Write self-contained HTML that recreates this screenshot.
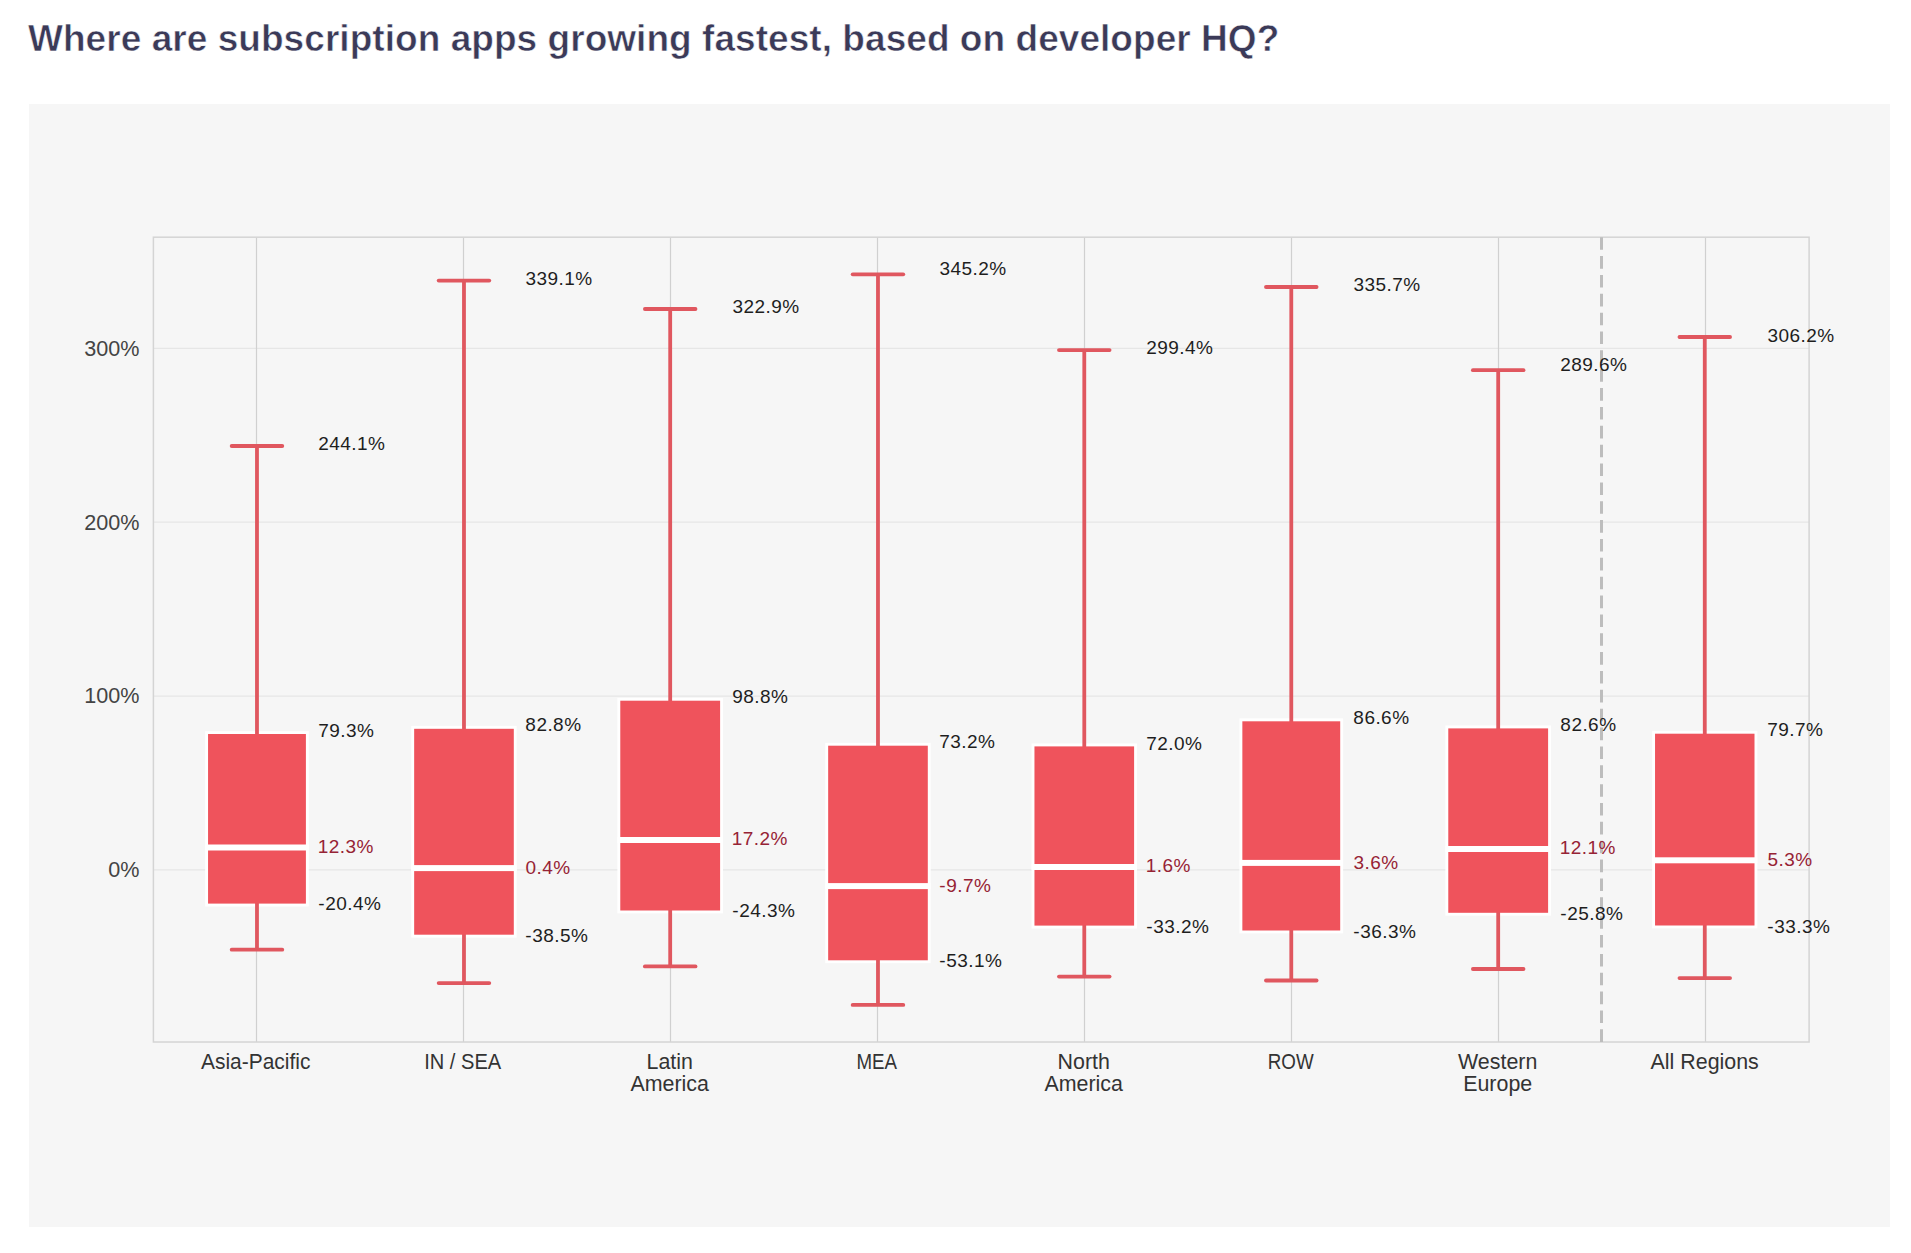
<!DOCTYPE html><html><head><meta charset="utf-8"><style>html,body{margin:0;padding:0;background:#fff;width:1911px;height:1253px;overflow:hidden}svg{display:block}text{font-family:"Liberation Sans",sans-serif}</style></head><body>
<svg width="1911" height="1253" viewBox="0 0 1911 1253">
<text x="28" y="50.8" font-size="37" font-weight="bold" letter-spacing="0.05" fill="#3b3a58" stroke="#ffffff" stroke-width="0.55">Where are subscription apps growing fastest, based on developer HQ?</text>
<rect x="29" y="104" width="1861" height="1123" fill="#f6f6f6"/>
<line x1="153.4" x2="1809.1" y1="869.90" y2="869.90" stroke="#e6e6e6" stroke-width="1.3"/>
<line x1="153.4" x2="1809.1" y1="696.03" y2="696.03" stroke="#e6e6e6" stroke-width="1.3"/>
<line x1="153.4" x2="1809.1" y1="522.16" y2="522.16" stroke="#e6e6e6" stroke-width="1.3"/>
<line x1="153.4" x2="1809.1" y1="348.29" y2="348.29" stroke="#e6e6e6" stroke-width="1.3"/>
<line x1="256.5" x2="256.5" y1="237.2" y2="1042" stroke="#d0d0d0" stroke-width="1.2"/>
<line x1="463.5" x2="463.5" y1="237.2" y2="1042" stroke="#d0d0d0" stroke-width="1.2"/>
<line x1="670.5" x2="670.5" y1="237.2" y2="1042" stroke="#d0d0d0" stroke-width="1.2"/>
<line x1="877.5" x2="877.5" y1="237.2" y2="1042" stroke="#d0d0d0" stroke-width="1.2"/>
<line x1="1084.5" x2="1084.5" y1="237.2" y2="1042" stroke="#d0d0d0" stroke-width="1.2"/>
<line x1="1291.5" x2="1291.5" y1="237.2" y2="1042" stroke="#d0d0d0" stroke-width="1.2"/>
<line x1="1498.5" x2="1498.5" y1="237.2" y2="1042" stroke="#d0d0d0" stroke-width="1.2"/>
<line x1="1705.5" x2="1705.5" y1="237.2" y2="1042" stroke="#d0d0d0" stroke-width="1.2"/>
<rect x="153.4" y="237.2" width="1655.6999999999998" height="804.8" fill="none" stroke="#d4d4d4" stroke-width="1.5"/>
<text x="139.4" y="877.30" text-anchor="end" font-size="21.6" fill="#444444">0%</text>
<text x="139.4" y="703.43" text-anchor="end" font-size="21.6" fill="#444444">100%</text>
<text x="139.4" y="529.56" text-anchor="end" font-size="21.6" fill="#444444">200%</text>
<text x="139.4" y="355.69" text-anchor="end" font-size="21.6" fill="#444444">300%</text>
<text x="255.7" y="1069.3" text-anchor="middle" font-size="21.4" fill="#333333" transform="translate(255.7 0) scale(0.979 1) translate(-255.7 0)">Asia-Pacific</text>
<text x="462.7" y="1069.3" text-anchor="middle" font-size="21.4" fill="#333333" transform="translate(462.7 0) scale(0.94 1) translate(-462.7 0)">IN / SEA</text>
<text x="669.7" y="1069.3" text-anchor="middle" font-size="21.4" fill="#333333">Latin</text>
<text x="669.7" y="1090.9" text-anchor="middle" font-size="21.4" fill="#333333">America</text>
<text x="876.7" y="1069.3" text-anchor="middle" font-size="21.4" fill="#333333" transform="translate(876.7 0) scale(0.876 1) translate(-876.7 0)">MEA</text>
<text x="1083.7" y="1069.3" text-anchor="middle" font-size="21.4" fill="#333333">North</text>
<text x="1083.7" y="1090.9" text-anchor="middle" font-size="21.4" fill="#333333">America</text>
<text x="1290.7" y="1069.3" text-anchor="middle" font-size="21.4" fill="#333333" transform="translate(1290.7 0) scale(0.878 1) translate(-1290.7 0)">ROW</text>
<text x="1497.7" y="1069.3" text-anchor="middle" font-size="21.4" fill="#333333">Western</text>
<text x="1497.7" y="1090.9" text-anchor="middle" font-size="21.4" fill="#333333">Europe</text>
<text x="1704.7" y="1069.3" text-anchor="middle" font-size="21.4" fill="#333333">All Regions</text>
<rect x="205.15" y="731.10" width="103.65" height="175.40" fill="#ffffff"/>
<line x1="256.98" x2="256.98" y1="446" y2="735.0" stroke="#e0575f" stroke-width="3.8"/>
<line x1="256.98" x2="256.98" y1="902.6" y2="949.65" stroke="#e0575f" stroke-width="3.8"/>
<line x1="231.68" x2="282.28" y1="446" y2="446" stroke="#e0575f" stroke-width="3.8" stroke-linecap="round"/>
<line x1="231.68" x2="282.28" y1="949.65" y2="949.65" stroke="#e0575f" stroke-width="3.8" stroke-linecap="round"/>
<rect x="208.05" y="734.00" width="97.85" height="169.60" fill="#ef535c"/>
<rect x="205.15" y="844.50" width="103.65" height="6.0" fill="#ffffff"/>
<rect x="411.26" y="725.90" width="105.44" height="211.70" fill="#ffffff"/>
<line x1="463.98" x2="463.98" y1="280.6" y2="729.8" stroke="#e0575f" stroke-width="3.8"/>
<line x1="463.98" x2="463.98" y1="933.7" y2="983.06" stroke="#e0575f" stroke-width="3.8"/>
<line x1="438.68" x2="489.28" y1="280.6" y2="280.6" stroke="#e0575f" stroke-width="3.8" stroke-linecap="round"/>
<line x1="438.68" x2="489.28" y1="983.06" y2="983.06" stroke="#e0575f" stroke-width="3.8" stroke-linecap="round"/>
<rect x="414.16" y="728.80" width="99.64" height="205.90" fill="#ef535c"/>
<rect x="411.26" y="865.10" width="105.44" height="6.0" fill="#ffffff"/>
<rect x="617.38" y="697.80" width="105.62" height="215.60" fill="#ffffff"/>
<line x1="670.19" x2="670.19" y1="309" y2="701.7" stroke="#e0575f" stroke-width="3.8"/>
<line x1="670.19" x2="670.19" y1="909.5" y2="966.4" stroke="#e0575f" stroke-width="3.8"/>
<line x1="644.89" x2="695.49" y1="309" y2="309" stroke="#e0575f" stroke-width="3.8" stroke-linecap="round"/>
<line x1="644.89" x2="695.49" y1="966.4" y2="966.4" stroke="#e0575f" stroke-width="3.8" stroke-linecap="round"/>
<rect x="620.28" y="700.70" width="99.82" height="209.80" fill="#ef535c"/>
<rect x="617.38" y="837.00" width="105.62" height="6.0" fill="#ffffff"/>
<rect x="825.26" y="742.80" width="105.44" height="220.40" fill="#ffffff"/>
<line x1="877.98" x2="877.98" y1="274.3" y2="746.7" stroke="#e0575f" stroke-width="3.8"/>
<line x1="877.98" x2="877.98" y1="959.3" y2="1004.9" stroke="#e0575f" stroke-width="3.8"/>
<line x1="852.68" x2="903.28" y1="274.3" y2="274.3" stroke="#e0575f" stroke-width="3.8" stroke-linecap="round"/>
<line x1="852.68" x2="903.28" y1="1004.9" y2="1004.9" stroke="#e0575f" stroke-width="3.8" stroke-linecap="round"/>
<rect x="828.16" y="745.70" width="99.64" height="214.60" fill="#ef535c"/>
<rect x="825.26" y="883.10" width="105.44" height="6.0" fill="#ffffff"/>
<rect x="1031.56" y="743.50" width="105.44" height="185.00" fill="#ffffff"/>
<line x1="1084.28" x2="1084.28" y1="350.1" y2="747.4" stroke="#e0575f" stroke-width="3.8"/>
<line x1="1084.28" x2="1084.28" y1="924.6" y2="976.6" stroke="#e0575f" stroke-width="3.8"/>
<line x1="1058.98" x2="1109.58" y1="350.1" y2="350.1" stroke="#e0575f" stroke-width="3.8" stroke-linecap="round"/>
<line x1="1058.98" x2="1109.58" y1="976.6" y2="976.6" stroke="#e0575f" stroke-width="3.8" stroke-linecap="round"/>
<rect x="1034.46" y="746.40" width="99.64" height="179.20" fill="#ef535c"/>
<rect x="1031.56" y="864.00" width="105.44" height="6.0" fill="#ffffff"/>
<rect x="1239.45" y="718.40" width="103.65" height="215.00" fill="#ffffff"/>
<line x1="1291.28" x2="1291.28" y1="287" y2="722.3" stroke="#e0575f" stroke-width="3.8"/>
<line x1="1291.28" x2="1291.28" y1="929.5" y2="980.5" stroke="#e0575f" stroke-width="3.8"/>
<line x1="1265.98" x2="1316.58" y1="287" y2="287" stroke="#e0575f" stroke-width="3.8" stroke-linecap="round"/>
<line x1="1265.98" x2="1316.58" y1="980.5" y2="980.5" stroke="#e0575f" stroke-width="3.8" stroke-linecap="round"/>
<rect x="1242.35" y="721.30" width="97.85" height="209.20" fill="#ef535c"/>
<rect x="1239.45" y="859.90" width="103.65" height="6.0" fill="#ffffff"/>
<rect x="1445.38" y="725.50" width="105.62" height="190.20" fill="#ffffff"/>
<line x1="1498.19" x2="1498.19" y1="370.2" y2="729.4" stroke="#e0575f" stroke-width="3.8"/>
<line x1="1498.19" x2="1498.19" y1="911.8" y2="969" stroke="#e0575f" stroke-width="3.8"/>
<line x1="1472.89" x2="1523.49" y1="370.2" y2="370.2" stroke="#e0575f" stroke-width="3.8" stroke-linecap="round"/>
<line x1="1472.89" x2="1523.49" y1="969" y2="969" stroke="#e0575f" stroke-width="3.8" stroke-linecap="round"/>
<rect x="1448.28" y="728.40" width="99.82" height="184.40" fill="#ef535c"/>
<rect x="1445.38" y="846.00" width="105.62" height="6.0" fill="#ffffff"/>
<rect x="1652.14" y="730.80" width="105.26" height="197.60" fill="#ffffff"/>
<line x1="1704.77" x2="1704.77" y1="337" y2="734.7" stroke="#e0575f" stroke-width="3.8"/>
<line x1="1704.77" x2="1704.77" y1="924.5" y2="978.1" stroke="#e0575f" stroke-width="3.8"/>
<line x1="1679.47" x2="1730.07" y1="337" y2="337" stroke="#e0575f" stroke-width="3.8" stroke-linecap="round"/>
<line x1="1679.47" x2="1730.07" y1="978.1" y2="978.1" stroke="#e0575f" stroke-width="3.8" stroke-linecap="round"/>
<rect x="1655.04" y="733.70" width="99.46" height="191.80" fill="#ef535c"/>
<rect x="1652.14" y="857.30" width="105.26" height="6.0" fill="#ffffff"/>
<line x1="1601.5" x2="1601.5" y1="237.2" y2="1042" stroke="#bdbdbd" stroke-width="3" stroke-dasharray="12.6 6.26"/>
<text x="318.24" y="450.38" font-size="19.0" letter-spacing="0.45" fill="#1e1e1e">244.1%</text>
<text x="318.23" y="736.92" font-size="19.0" letter-spacing="0.45" fill="#1e1e1e">79.3%</text>
<text x="317.75" y="853.41" font-size="19.0" letter-spacing="0.45" fill="#962335">12.3%</text>
<text x="318.36" y="910.27" font-size="19.0" letter-spacing="0.45" fill="#1e1e1e">-20.4%</text>
<text x="525.48" y="285.21" font-size="19.0" letter-spacing="0.45" fill="#1e1e1e">339.1%</text>
<text x="525.37" y="730.84" font-size="19.0" letter-spacing="0.45" fill="#1e1e1e">82.8%</text>
<text x="525.46" y="874.10" font-size="19.0" letter-spacing="0.45" fill="#962335">0.4%</text>
<text x="525.36" y="941.74" font-size="19.0" letter-spacing="0.45" fill="#1e1e1e">-38.5%</text>
<text x="732.48" y="313.37" font-size="19.0" letter-spacing="0.45" fill="#1e1e1e">322.9%</text>
<text x="732.31" y="703.02" font-size="19.0" letter-spacing="0.45" fill="#1e1e1e">98.8%</text>
<text x="731.75" y="844.89" font-size="19.0" letter-spacing="0.45" fill="#962335">17.2%</text>
<text x="732.36" y="917.05" font-size="19.0" letter-spacing="0.45" fill="#1e1e1e">-24.3%</text>
<text x="939.48" y="274.60" font-size="19.0" letter-spacing="0.45" fill="#1e1e1e">345.2%</text>
<text x="939.23" y="747.53" font-size="19.0" letter-spacing="0.45" fill="#1e1e1e">73.2%</text>
<text x="939.36" y="891.67" font-size="19.0" letter-spacing="0.45" fill="#962335">-9.7%</text>
<text x="939.36" y="967.12" font-size="19.0" letter-spacing="0.45" fill="#1e1e1e">-53.1%</text>
<text x="1146.24" y="354.23" font-size="19.0" letter-spacing="0.45" fill="#1e1e1e">299.4%</text>
<text x="1146.23" y="749.61" font-size="19.0" letter-spacing="0.45" fill="#1e1e1e">72.0%</text>
<text x="1145.75" y="872.02" font-size="19.0" letter-spacing="0.45" fill="#962335">1.6%</text>
<text x="1146.36" y="932.52" font-size="19.0" letter-spacing="0.45" fill="#1e1e1e">-33.2%</text>
<text x="1353.48" y="291.12" font-size="19.0" letter-spacing="0.45" fill="#1e1e1e">335.7%</text>
<text x="1353.37" y="724.23" font-size="19.0" letter-spacing="0.45" fill="#1e1e1e">86.6%</text>
<text x="1353.48" y="868.54" font-size="19.0" letter-spacing="0.45" fill="#962335">3.6%</text>
<text x="1353.36" y="937.91" font-size="19.0" letter-spacing="0.45" fill="#1e1e1e">-36.3%</text>
<text x="1560.24" y="371.27" font-size="19.0" letter-spacing="0.45" fill="#1e1e1e">289.6%</text>
<text x="1560.37" y="731.18" font-size="19.0" letter-spacing="0.45" fill="#1e1e1e">82.6%</text>
<text x="1559.75" y="853.76" font-size="19.0" letter-spacing="0.45" fill="#962335">12.1%</text>
<text x="1560.36" y="919.66" font-size="19.0" letter-spacing="0.45" fill="#1e1e1e">-25.8%</text>
<text x="1767.48" y="342.41" font-size="19.0" letter-spacing="0.45" fill="#1e1e1e">306.2%</text>
<text x="1767.23" y="736.23" font-size="19.0" letter-spacing="0.45" fill="#1e1e1e">79.7%</text>
<text x="1767.44" y="865.58" font-size="19.0" letter-spacing="0.45" fill="#962335">5.3%</text>
<text x="1767.36" y="932.70" font-size="19.0" letter-spacing="0.45" fill="#1e1e1e">-33.3%</text>
</svg></body></html>
